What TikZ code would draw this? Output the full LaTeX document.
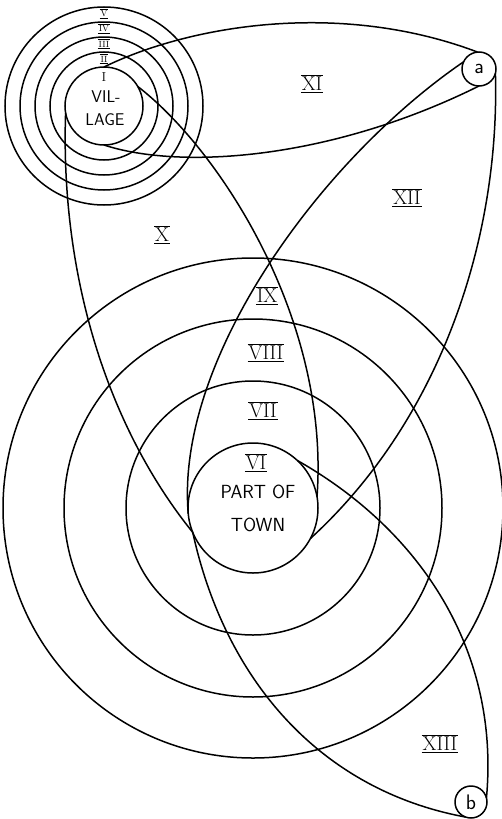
\documentclass[tikz,border=0pt]{standalone}
\usepackage{graphicx}
\newcommand{\romnum}[2][1.2pt]{\setbox0=\hbox{#2}%
	\vbox{\hrule height #1 width \dimexpr\wd0+2pt\relax\kern0.8pt
		\hbox to \dimexpr\wd0+2pt\relax{\hss\copy0\hss}\kern0.8pt\hrule height #1}}
\begin{document}
\begin{tikzpicture}[x=1pt,y=-1pt,line width=1.5pt,
    place/.style={circle,draw,inner sep=0pt,outer sep=0pt},
    numeral/.style={font=\fontsize{20}{22}\selectfont,inner sep=0pt},
    small numeral/.style={font=\fontsize{9}{10}\selectfont,inner sep=0pt},
    lettering/.style={font=\sffamily\fontsize{19}{22}\selectfont,inner sep=0pt}]

	\useasboundingbox (0,0) rectangle (502,819);

	% Village and its rings
	\node[place,minimum size=78pt] (village) at (104,106) {};
	\foreach \r in {54,69,84,99}
		\draw (village.center) circle[radius=\r];
	\node[font=\fontsize{13}{13}\selectfont,inner sep=0pt] (vI) at (104,77) {I};
	\node[lettering,font=\sffamily\fontsize{17}{18}\selectfont] (vil) at (106,97) {VIL-};
	\node[lettering,font=\sffamily\fontsize{17}{18}\selectfont] (lage) at (105,120) {LAGE};
	\node[small numeral] (vII) at (104,59) {\romnum[0.8pt]{II}};
	\node[small numeral] (vIII) at (104,44) {\romnum[0.8pt]{III}};
	\node[small numeral] (vIV) at (104,29) {\romnum[0.8pt]{IV}};
	\node[small numeral] (vV) at (104,14) {\romnum[0.8pt]{V}};

	% Part of town and its rings
	\node[place,minimum size=130pt] (town) at (253,508) {};
	\foreach \r in {127,189,250}
		\draw (town.center) circle[radius=\r];
	\node[numeral] (tVI) at (256,463) {\romnum{VI}};
	\node[lettering] (part) at (258,492) {PART OF};
	\node[lettering] (townname) at (258,525) {TOWN};

	% Points a and b
	\node[place,minimum size=34pt,lettering,font=\sffamily\fontsize{21}{22}\selectfont] (a) at (479,69) {a};
	\node[place,minimum size=32pt,lettering,font=\sffamily\fontsize{21}{22}\selectfont] (b) at (471,802) {b};

	% Lens village -- a
	\draw (village.90) .. controls (190,25) and (340,0) .. (a.95);
	\draw (village.270) .. controls (180,170) and (330,160) .. (a.-90);

	% Lens village -- town
	\draw (village.190) .. controls (60,280) and (110,430) .. (town.202);
	\draw (village.30) .. controls (220,150) and (330,320) .. (town.10);

	% Lens a -- town
	\draw (a.155) .. controls (320,160) and (175,360) .. (town.185);
	\draw (a.-15) .. controls (500,240) and (440,420) .. (town.-28);

	% Lens town -- b
	\draw (town.47) .. controls (420,530) and (500,650) .. (b.15);
	\draw (town.202) .. controls (225,680) and (320,790) .. (b.250);

	% Region numerals
	\node[numeral] (rX) at (162,235) {\romnum{X}};
	\node[numeral] (rXI) at (312,84) {\romnum{XI}};
	\node[numeral] (rXII) at (407,198) {\romnum{XII}};
	\node[numeral] (rIX) at (267,296) {\romnum{IX}};
	\node[numeral] (rVIII) at (266,353) {\romnum{VIII}};
	\node[numeral] (rVII) at (263,411) {\romnum{VII}};
	\node[numeral] (rXIII) at (440,744) {\romnum{XIII}};

\end{tikzpicture}
\end{document}
